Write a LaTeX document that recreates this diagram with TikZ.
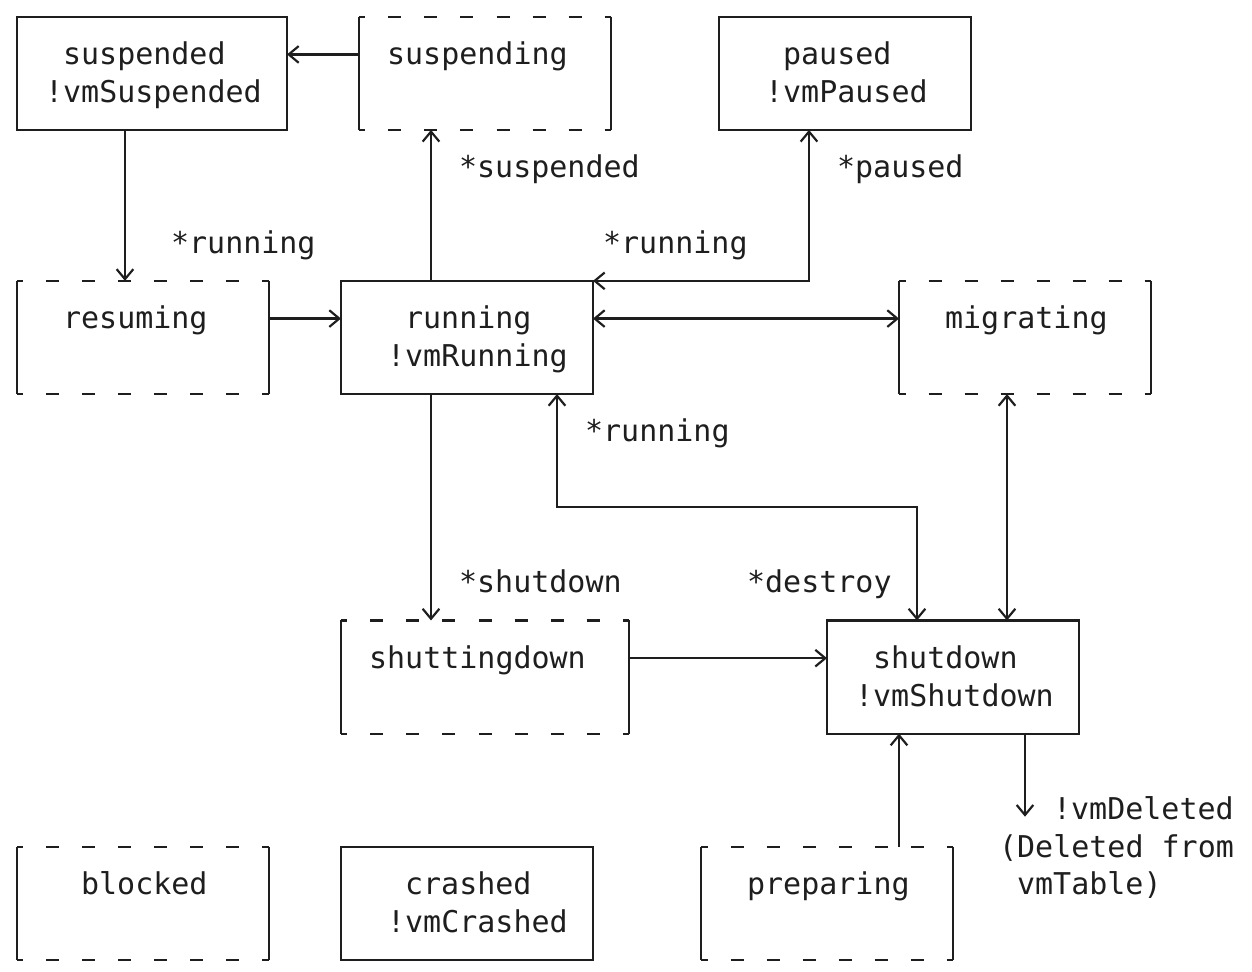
\documentclass[tikz,border=0pt]{standalone}
\usepackage{fontspec}
\newfontfamily\monofont{DejaVu Sans Mono}
\usetikzlibrary{arrows.meta}
\definecolor{ink}{HTML}{1E1E1E}

\tikzset{
  box/.style={rectangle, draw, inner sep=0pt, outer sep=0pt, minimum width=151.2pt, minimum height=67.92pt},
  dbox/.style={box, draw=none},
  dashline/.style={dash pattern=on 7.8pt off 13.8pt, dash phase=3.9pt},
  lbl/.style={font=\monofont\fontsize{18}{22.6}\selectfont, anchor=base west, inner sep=0pt, text=ink},
}

\begin{document}
\begin{tikzpicture}[x=10.8pt, y=-22.64pt, line width=1.3pt, draw=ink,
  >={Straight Barb[length=6pt,width=10pt]}]

\useasboundingbox (-0.944,-0.443) rectangle (68.611,25.312);

\node [box, minimum width=162pt] (suspended) at (7.5,1.5) {};
\node [dbox] (suspending) at (26,1.5) {};
\node [box] (paused) at (46,1.5) {};
\node [dbox] (resuming) at (7,8.5) {};
\node [box] (running) at (25,8.5) {};
\node [dbox] (migrating) at (56,8.5) {};
\node [dbox, minimum width=172.8pt] (shuttingdown) at (26,17.5) {};
\node [box] (shutdown) at (52,17.5) {};
\node [dbox] (blocked) at (7,23.5) {};
\node [box] (crashed) at (25,23.5) {};
\node [dbox] (preparing) at (45,23.5) {};

\foreach \n in {suspending,resuming,migrating,shuttingdown,blocked,preparing} {
  \draw[dashline] (\n.north west) -- (\n.north east) (\n.south west) -- (\n.south east);
  \draw (\n.north west) -- (\n.south west) (\n.north east) -- (\n.south east);
}

\node [lbl] (suspended-t) at (2.5,1.27) {suspended};
\node [lbl] (suspended-v) at (1.5,2.27) {!vmSuspended};
\node [lbl] (suspending-t) at (20.5,1.27) {suspending};
\node [lbl] (paused-t) at (42.5,1.27) {paused};
\node [lbl] (paused-v) at (41.5,2.27) {!vmPaused};
\node [lbl] (resuming-t) at (2.5,8.27) {resuming};
\node [lbl] (running-t) at (21.5,8.27) {running};
\node [lbl] (running-v) at (20.5,9.27) {!vmRunning};
\node [lbl] (migrating-t) at (51.5,8.27) {migrating};
\node [lbl] (shuttingdown-t) at (19.5,17.27) {shuttingdown};
\node [lbl] (shutdown-t) at (47.5,17.27) {shutdown};
\node [lbl] (shutdown-v) at (46.5,18.27) {!vmShutdown};
\node [lbl] (blocked-t) at (3.5,23.27) {blocked};
\node [lbl] (crashed-t) at (21.5,23.27) {crashed};
\node [lbl] (crashed-v) at (20.5,24.27) {!vmCrashed};
\node [lbl] (preparing-t) at (40.5,23.27) {preparing};

\coordinate (deleted) at (56,21.2);

\draw[->] (suspending.west |- 0,1) -- (suspended.east |- 0,1);
\draw[->] (suspended.south -| 6,0) -- (resuming.north -| 6,0);
\draw[->] (resuming.east |- 0,8) -- (running.west |- 0,8);
\draw[->] (running.north -| 23,0) -- (suspending.south -| 23,0);
\draw[<->] (running.north east) -| (paused.south -| 44,0);
\draw[<->] (running.east |- 0,8) -- (migrating.west |- 0,8);
\draw[->] (running.south -| 23,0) -- (shuttingdown.north -| 23,0);
\draw[<->] (running.south -| 30,0) -- ++(0,3) -| (shutdown.north -| 50,0);
\draw[<->] (migrating.south -| 55,0) -- (shutdown.north -| 55,0);
\draw[->] (shuttingdown.east |- 0,17) -- (shutdown.west |- 0,17);
\draw[->] (preparing.north -| 49,0) -- (shutdown.south -| 49,0);
\draw[->] (shutdown.south -| 56,0) -- (deleted);

\node [lbl] (resume-l) at (8.5,6.27) {*running};
\node [lbl] (suspend-l) at (24.5,4.27) {*suspended};
\node [lbl] (pause-l) at (45.5,4.27) {*paused};
\node [lbl] (unpause-l) at (32.5,6.27) {*running};
\node [lbl] (restart-l) at (31.5,11.27) {*running};
\node [lbl] (shutdown-l) at (24.5,15.27) {*shutdown};
\node [lbl] (destroy-l) at (40.5,15.27) {*destroy};
\node [lbl] (deleted-l) at (57.5,21.27) {!vmDeleted};
\node [lbl] (deleted-a) at (54.5,22.27) {(Deleted from};
\node [lbl] (deleted-b) at (55.5,23.27) {vmTable)};

\end{tikzpicture}
\end{document}
